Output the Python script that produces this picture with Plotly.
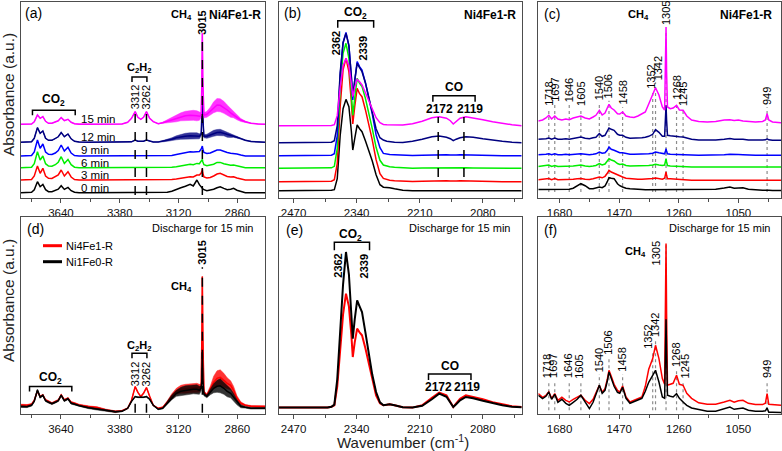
import plotly.graph_objects as go

W, H = 782, 451

# ======================= DATA =======================
# ---- panel (a): 3818-2738 cm-1, six discharge times, heights above each baseline
WN_A = [3818, 3790, 3770, 3758, 3744, 3732, 3720, 3708, 3695, 3680,
        3665, 3652, 3639, 3625, 3609, 3595, 3580, 3560, 3520, 3480,
        3440, 3400, 3370, 3345, 3328, 3312, 3300, 3287, 3275, 3262,
        3248, 3232, 3210, 3190, 3170, 3150, 3130, 3110, 3090, 3069,
        3055, 3039, 3028, 3020, 3017, 3015, 3013, 3008, 2995, 2980,
        2965, 2950, 2936, 2920, 2905, 2890, 2877, 2862, 2845, 2825,
        2800, 2770, 2738]
TIME_LABELS = ["0 min", "3 min", "6 min", "9 min", "12 min", "15 min"]
BASE_A = [5.3, 18, 30.3, 42, 55.7, 73.7]
A_0MIN = [0, 0, 0.5, 3, 11, 6, 8.3, 3, 1, 1,
          2, 3.5, 7, 3.3, 5.3, 2, 0.5, 0, 0, 0,
          0, 0, 0, 0, 0, 0, 0, 0, 0, 0,
          0, 0, 0, 0, 0.5, 1.5, 3.5, 5, 6.5, 8.3,
          6.7, 12.7, 8, 5, 4.5, 4.5, 4, 3, 2, 2.5,
          3.5, 5, 6, 4.3, 3, 3.5, 4.3, 2.5, 1, 0,
          0, 0, 0]
A_3MIN = [0, 0, 0.5, 4, 14, 6.7, 11.7, 4, 1.7, 1.5,
          3, 5, 10, 4, 8.3, 3, 0.5, 0, 0, 0,
          0, 0, 0, 0, 0, 0.3, 0, 0, 0, 0.3,
          0, 0, 0, 0, 0, 0.5, 1, 2, 3, 3.3,
          3, 5, 5, 7, 9, 11, 7, 3, 2, 2.5,
          4, 6, 6.7, 5, 3.5, 3, 3.3, 2, 1, 0,
          0, 0, 0]
A_6MIN = [0, 0, 0.5, 4, 16, 7.7, 11.7, 4, 1.7, 1.5,
          3, 5.5, 11, 4.3, 8.3, 3, 0.5, 0, 0, 0,
          0, 0, 0, 0, 0, 0.3, 0, 0, 0, 0.3,
          0, 0, 0, 0, 0, 0.5, 1, 2, 3, 3.5,
          3, 4.3, 4, 6, 7.5, 8.3, 6, 3, 2, 2.5,
          3.5, 5.3, 5.3, 4, 3, 2.5, 2.7, 2, 1, 0,
          0, 0, 0]
A_9MIN = [0, 0, 0.5, 4, 16, 7.7, 12, 4, 1.7, 1.5,
          3, 5.5, 11, 5, 8.7, 3, 0.5, 0, 0, 0,
          0, 0, 0, 0, 0.2, 0.7, 0.3, 0.2, 0.3, 0.7,
          0.2, 0, 0, 0, 0, 0.5, 1.5, 2.5, 3.5, 4.3,
          4, 4.3, 4.5, 7, 9, 10, 7, 3.5, 2.5, 3,
          4.5, 6, 6, 4.5, 3.5, 2.7, 2.7, 2, 1, 0,
          0, 0, 0]
A_12MIN = [0, 0, 0.5, 4, 14.7, 9, 11.3, 4, 2, 2,
           3.5, 5.5, 9.7, 5.7, 8.3, 3.5, 1, 0.3, 0, 0,
           0, 0, 0, 0.2, 0.5, 2.3, 1, 1, 1, 2.3,
           1, 0.3, 0.3, 1, 2, 3, 4.5, 5.5, 6, 6.5,
           6.5, 6.5, 6, 8, 25, 42, 25, 6, 6, 7.5,
           9, 9.8, 10, 9, 7.5, 6.8, 6.5, 5, 3.7, 2,
           0.7, 0.3, 0]
A_12MIN_NOISE = [0, 0, 0, 0, 0, 0, 0, 0, 0, 0,
                 0, 0, 0, 0, 0, 0, 0, 0, 0, 0,
                 0, 0, 0, 0, 0, 0, 0, 0, 0, 0,
                 0, 0, 0, 0.5, 1, 1.5, 2, 2.5, 3, 3,
                 3, 3, 2.5, 1.5, 0, 0, 0, 1.5, 2, 2.5,
                 3, 3, 3, 2.5, 2.5, 2, 1.5, 1, 0.5, 0.3,
                 0, 0, 0]
A_15MIN = [0, 0, 0.3, 2.5, 9.3, 6, 7.7, 3, 1, 1,
           2, 3.5, 6.7, 3.7, 5, 2, 0.5, 0, 0, 0,
           0, 0, 0.3, 2, 6, 12.7, 7, 5, 7, 12.7,
           6, 2.7, 0.5, 1.5, 3, 4.5, 6, 7.5, 8.5, 9,
           9, 8.5, 8, 9, 45, 91, 45, 9, 10, 13,
           17, 19.3, 19, 17, 14.3, 11.5, 9.5, 7, 4.3, 2.5,
           1, 0.3, 0]
A_15MIN_NOISE = [0, 0, 0, 0, 0, 0, 0, 0, 0, 0,
                 0, 0, 0, 0, 0, 0, 0, 0, 0, 0,
                 0, 0, 0, 0, 0, 0, 0, 0, 0, 0,
                 0, 0, 0, 0.7, 1.5, 2.5, 3.5, 4, 4.5, 5,
                 5, 5, 4, 2.5, 0, 0, 0, 2.5, 3, 4,
                 5.5, 6.5, 6.5, 6, 5, 4.5, 3, 2.5, 1.5, 0.7,
                 0, 0, 0]
PEAKS_A = [3312, 3262, 3015]

# ---- panel (b): 2500-2000 cm-1
WN_B = [2500, 2440, 2400, 2392, 2386, 2380, 2374, 2368, 2362, 2356,
        2351, 2348, 2344, 2339, 2334, 2329, 2322, 2315, 2308, 2300,
        2292, 2285, 2278, 2272, 2262, 2245, 2225, 2205, 2185, 2170,
        2155, 2147, 2141, 2135, 2127, 2115, 2100, 2080, 2060, 2040,
        2020, 2000]
BASE_B = [7.3, 16.3, 29.7, 42.3, 55.3, 72.3]
B_0MIN = [0, 0, 0, 0.5, 1, 12, 55, 82, 91.3, 84,
          60, 40.7, 52, 65.7, 62, 59, 50, 40, 30, 16,
          6, 3.5, 3.5, 3, 2, 0.5, 0, 0, 0, 0,
          0, 0, 0, 0, 0, 0, 0, 0, 0, 0,
          0, 0]
B_3MIN = [0, 0, 0, 0.5, 2, 18, 75, 112, 123.3, 110,
          80, 57.7, 75, 93.3, 88, 85, 72, 58, 42, 22,
          8, 3.3, 2, 1.5, 1, 0.5, 0.3, 0.5, 1, 1,
          1, 0.8, 0.5, 0.8, 1, 1, 0.8, 0.5, 0.3, 0,
          0, 0]
B_6MIN = [0, 0, 0, 0.5, 2, 20, 80, 115, 125, 110,
          75, 53, 70, 90, 85, 81.7, 70, 56, 40, 21,
          8, 3.3, 2, 1.5, 1, 0.5, 0, 0.3, 0.5, 0.5,
          0.5, 0.3, 0.2, 0.3, 0.5, 0.5, 0.3, 0.2, 0, 0,
          0, 0]
B_9MIN = [0, 0, 0, 0.5, 2, 20, 80, 113, 123.3, 110,
          80, 55.7, 75, 94, 89, 85.7, 73, 58, 42, 21,
          8, 2.3, 1.5, 1.2, 1, 0.5, 0.3, 0.5, 1, 1,
          1, 0.7, 0.5, 0.7, 1, 1, 0.7, 0.5, 0.3, 0,
          0, 0]
B_12MIN = [0, 0, 0, 0.5, 2, 17, 70, 100, 109.3, 97,
           66, 46, 62, 79.3, 75, 71, 60, 46, 30, 14,
           5, 2.7, 1.5, 1, 0.5, 0.3, 1.5, 3.5, 6, 6.7,
           5.5, 4, 2, 3.5, 5, 6, 5.5, 4, 2.5, 1.5,
           0.5, 0]
B_15MIN = [0, 0, 0, 0.3, 1, 10, 38, 60, 67.3, 60,
           42, 29, 38, 46.3, 44, 40.7, 33, 25, 17, 8,
           3, 1.3, 1, 1, 1, 0.8, 2, 4.5, 8, 9,
           7.5, 5, 1.7, 4.5, 7.5, 9, 8, 6, 4, 2.3,
           1, 0]
PEAKS_B = [2362, 2339]
CO_PEAKS = [2172, 2119]

# ---- panel (c): 1755-900 cm-1
WN_C = [1755, 1740, 1728, 1718, 1708, 1697, 1686, 1672, 1658, 1646,
        1632, 1618, 1605, 1590, 1575, 1562, 1552, 1540, 1530, 1520,
        1512, 1506, 1498, 1488, 1476, 1468, 1458, 1446, 1432, 1418,
        1404, 1390, 1378, 1366, 1352, 1342, 1330, 1318, 1310, 1307,
        1305, 1303, 1300, 1290, 1280, 1268, 1258, 1245, 1232, 1215,
        1190, 1160, 1130, 1100, 1080, 1065, 1050, 1034, 1015, 990,
        965, 955, 949, 943, 930, 900]
BASE_C = [8.3, 17.7, 31, 42.7, 57.7, 76]
C_0MIN = [0.3, 0.3, 0.5, 1, 0.3, 1, 0.5, 0.3, 0.5, 0.5,
          1.5, 3.5, 6, 4, 1, 1, 1.5, 2.7, 2, 3.7,
          8, 12, 11.5, 11, 6, 4, 2.7, 1.5, 1, 1,
          0.5, 0.3, 0, 0, 0, 0, 0, 0, 0, 0.3,
          0.5, 0.3, 0, 0, 0, 0, 0, 0, 0, 0,
          0, 0, 0.5, 1.7, 2.7, 1.5, 1.5, 2, 0.5, -0.3,
          -0.5, -0.5, -0.3, -0.5, -0.7, -0.7]
C_3MIN = [0.5, 1, 1.5, 1.7, 0.5, 1.7, 0.5, 0.5, 1, 0.7,
          1, 1.5, 1.7, 1, 0.7, 1.5, 2, 3.3, 2.5, 4,
          7, 10, 8.3, 7, 5, 4, 3.3, 2, 1.5, 1,
          1, 1, 1, 1.3, 1.7, 2.3, 1.5, 1, 2, 5,
          8.3, 5, 1.5, 1.5, 1.3, 1.3, 1, 0.3, 0, 0,
          0, 0, 0, 0.3, 0.5, 0.3, 0.3, 0.3, 0, 0,
          0, 0, 0.3, 0, 0, 0]
C_6MIN = [0.5, 1, 1, 2, 0.5, 1.5, 0.5, 0.5, 1, 0.5,
          1, 1.5, 2, 1, 0.5, 1, 1.5, 3.3, 2, 3,
          6, 8.3, 7, 6, 3.5, 2.5, 3, 1.5, 1, 1,
          1, 1, 1, 1.5, 2, 2.7, 2, 1.5, 2, 5,
          8.3, 5, 1.5, 1, 1, 1, 1, 0.5, 0.3, 0,
          0, 0, 0, 0.3, 0.5, 0.3, 0.5, 0.3, 0, 0,
          0, 0, 0.3, 0, 0, 0]
C_9MIN = [0.5, 0.5, 1, 1.5, 0.5, 1.5, 0.5, 0.5, 1, 0.5,
          1, 1.5, 1.5, 1, 0.5, 1, 1.5, 3.3, 2, 2.5,
          5, 8.3, 6, 5, 3, 2.5, 2.5, 1.5, 1, 1,
          1, 1, 1, 1.5, 2, 3.3, 2.5, 1.5, 1.5, 4,
          6.7, 4, 1.5, 1, 1, 1, 1, 0.5, 0.5, 0.3,
          0, 0, 0, 0.5, 1, 0.5, 0.7, 0.5, 0, 0,
          0, 0, 0.5, 0, 0, 0]
C_12MIN = [1, 1, 1.5, 2.3, 1, 2.3, 1, 1, 1.5, 1,
           2, 3, 3.3, 2, 1.5, 2.5, 3, 6.7, 4, 5,
           9, 12.3, 11, 10, 6, 5, 5, 3, 2, 2,
           2.5, 2.5, 3, 4, 6, 10.7, 8, 4, 4, 20,
           35, 20, 5, 4.5, 4, 4, 3.5, 3.3, 2, 1,
           0.3, 0, 0.3, 1, 1.7, 1, 1.3, 1, 0.3, 0,
           0.3, 0.5, 1.5, 0.5, 0, 0]
C_15MIN = [1, 2, 4, 6.7, 3, 6, 3, 2, 3, 2.3,
           4, 5, 6, 4, 3, 5, 6.7, 11.7, 7, 9,
           14, 17.7, 14, 12, 8.3, 8, 10, 6, 5, 4.5,
           6, 8, 10, 18, 28.3, 34.3, 27, 15, 12, 50,
           95, 50, 15, 13.3, 14, 16.7, 12, 11.7, 6, 2,
           0.5, 0, 0.5, 2, 2.3, 1.5, 2, 1, 0.3, 0,
           0.5, 2, 8.3, 2, 0, -0.7]
PEAKS_C = [1718, 1697, 1646, 1605, 1540, 1506, 1458, 1352, 1342, 1305, 1268, 1245, 949]

# ---- panel (d): discharge 15 min, heights above the axis (same wavenumbers as (a))
SAMPLES = ["Ni4Fe1-R", "Ni1Fe0-R"]
D_NI4FE1 = [9.3, 9, 10, 14, 23.3, 17.7, 19.3, 14.3, 13, 11,
            12.7, 14, 19.3, 14.3, 16, 12, 11, 9.3, 7.7, 6.7,
            4.3, 2.7, 3.5, 6, 14, 27.7, 22, 17.7, 21, 26.7,
            18, 9, 6, 7, 12, 18, 23, 25, 25.5, 26,
            26, 26.5, 26, 28, 80, 137.7, 80, 22, 19, 25,
            32, 36, 37, 34, 31, 29, 24, 16, 11, 9,
            8, 7.7, 7.7]
D_NI4FE1_NOISE = [0.8, 0.8, 0.8, 0.8, 0.8, 0.8, 0.8, 0.8, 0.8, 0.8,
                  0.8, 0.8, 0.8, 0.8, 0.8, 0.8, 0.8, 0.8, 0.8, 0.8,
                  0.8, 0.8, 0.4, 0.4, 0.4, 0.4, 0.4, 0.4, 0.4, 0.4,
                  0.4, 0.4, 0.4, 0.4, 1.5, 2.5, 3, 4, 4.5, 4.5,
                  4.5, 4.5, 4, 2.5, 0, 0, 0, 1.5, 1.5, 3,
                  6, 7.5, 7.5, 7, 5.5, 4.5, 4, 2.5, 1.5, 0.8,
                  0.8, 0.8, 0.8]
D_NI1FE0 = [7.7, 7.5, 9, 13, 24.3, 17, 19, 13.5, 12, 10.5,
            12, 13.5, 19, 13.5, 15.5, 11, 10, 8.5, 6.5, 5,
            3.5, 2.5, 3, 6, 13, 17.7, 17, 16.7, 17, 17.7,
            15, 9, 5, 6, 11, 17, 21, 23, 24, 24.5,
            25, 25, 24, 26, 35, 62, 35, 20, 18, 22,
            26, 28, 28.5, 26, 23, 21, 17, 12, 8, 7,
            6, 6, 6]
D_NI1FE0_NOISE = [0.8, 0.8, 0.8, 0.8, 0.8, 0.8, 0.8, 0.8, 0.8, 0.8,
                  0.8, 0.8, 0.8, 0.8, 0.8, 0.8, 0.8, 0.8, 0.8, 0.8,
                  0.8, 0.8, 0.4, 0.4, 0.4, 0.4, 0.4, 0.4, 0.4, 0.4,
                  0.4, 0.4, 0.4, 0.4, 1.5, 2.5, 3, 4, 4.5, 4.5,
                  4.5, 4.5, 4, 2.5, 0, 0, 0, 1.5, 1.5, 2.5,
                  4.5, 6, 7, 6, 5.5, 4.5, 4, 2.5, 1.5, 0.8,
                  0.8, 0.8, 0.8]

# ---- panel (e): same wavenumbers as (b)
E_NI4FE1 = [6.7, 6.7, 6.7, 7.5, 9, 28, 65, 100, 120.7, 108,
            80, 57.3, 72, 85.7, 82, 79, 66, 50, 34, 19,
            11, 9, 9.5, 10, 9, 7, 6.7, 9, 16.5, 21.7,
            19, 13, 7.3, 11, 15.5, 19, 17.5, 15, 12, 10,
            8, 7.3]
E_NI1FE0 = [6.7, 6.7, 6.7, 7.5, 9.7, 35, 85, 130, 162.3, 140,
            100, 75.7, 95, 114, 108, 102.3, 82, 60, 40, 22.3,
            12, 9, 9.5, 10, 9, 7, 6.7, 8.5, 15, 20.7,
            17.5, 12, 7.3, 10, 14, 17.3, 16, 13.5, 11, 9,
            7.5, 7]

# ---- panel (f): same wavenumbers as (c)
F_NI4FE1 = [20.7, 17, 19, 22.3, 16, 20.7, 14, 17, 14, 12.3,
            15, 17, 19, 14, 10.7, 15, 22.3, 29, 22, 25.7,
            35, 44, 38, 30, 24, 22.3, 28.3, 17.3, 12.3, 14,
            16, 17.3, 28, 45, 55.7, 69, 55.7, 35.7, 30, 100,
            170.7, 100, 29, 30, 31, 39, 30, 29, 21, 16,
            11.5, 10, 10, 12.3, 14, 12, 13.5, 14, 11, 9.7,
            9.7, 11, 20.7, 10, 9.5, 9]
F_NI1FE0 = [19, 15.7, 18, 22.3, 15, 20, 12, 15, 11, 9,
            12, 15, 19, 12, 5.7, 12, 20, 29, 21, 24,
            33, 42.3, 36, 28, 22, 21, 27, 16, 11, 12.5,
            14, 16, 23, 32, 39, 44, 32.3, 17.3, 16, 60,
            95, 60, 19, 18, 17.3, 20.7, 16, 12.3, 9, 6.3,
            4.5, 3, 3, 5.7, 7.3, 5, 6, 6.3, 4, 3,
            3, 3.5, 6.3, 2, 2, 1.7]

# ======================= STYLE / LAYOUT =======================
FONT = "Liberation Sans, Arial, sans-serif"
AX = "#4d4d4d"
TIME_COLORS = ["#000000", "#ff0000", "#00ee00", "#0000ff", "#000080", "#ff00ff"]
SAMPLE_COLORS = ["#ff0000", "#000000"]

COLS = [(20.7, 265.0), (279.0, 521.7), (538.3, 781.0)]
ROWS = [(2.0, 198.0), (217.0, 414.3)]
XR = [[3818, 2738], [2500, 2000], [1755, 900]]
TICK0 = [3640, 2470, 1680]
DTICK = [260, 130, 210]
YR = [[0, 196], [0, 197.3]]

fig = go.Figure()
annotations, shapes = [], []


def ref(k):
    return ('x' if k == 1 else f'x{k}', 'y' if k == 1 else f'y{k}')


def line(k, x, y, color, width=1.5):
    xr, yr = ref(k)
    fig.add_trace(go.Scatter(x=x, y=y, xaxis=xr, yaxis=yr, mode='lines',
                             line=dict(color=color, width=width),
                             showlegend=False, hoverinfo='skip'))


def band(k, x, center, hw, color):
    xr, yr = ref(k)
    up = [c + h for c, h in zip(center, hw)]
    lo = [c - h for c, h in zip(center, hw)]
    fig.add_trace(go.Scatter(x=list(x) + list(x)[::-1], y=up + lo[::-1],
                             xaxis=xr, yaxis=yr, mode='lines', fill='toself',
                             fillcolor=color, opacity=0.8, line=dict(color=color, width=0.5),
                             showlegend=False, hoverinfo='skip'))


def _font(size, bold, color):
    return dict(family=FONT, size=size, color=color, weight='bold' if bold else 'normal')


def tdata(k, x, y, text, size=11, bold=False, angle=0, xanchor='center', color='black'):
    xr, yr = ref(k)
    annotations.append(dict(x=x, y=y, xref=xr, yref=yr, text=text, showarrow=False,
                            textangle=angle, xanchor=xanchor, yanchor='middle',
                            borderpad=0, font=_font(size, bold, color)))


def tpx(px, py, text, size=11, bold=False, angle=0, xanchor='center', color='black'):
    annotations.append(dict(x=px / W, y=1 - py / H, xref='paper', yref='paper', text=text,
                            showarrow=False, textangle=angle, xanchor=xanchor, yanchor='middle',
                            borderpad=0, font=_font(size, bold, color)))


def vline(k, x, y0, y1, dash='dash', color='black', width=1.5, layer='above'):
    xr, yr = ref(k)
    shapes.append(dict(type='line', xref=xr, yref=yr, x0=x, x1=x, y0=y0, y1=y1, layer=layer,
                       line=dict(color=color, width=width, dash=dash)))


def bracket(k, x0, x1, y, tick):
    xr, yr = ref(k)
    shapes.append(dict(type='path', xref=xr, yref=yr,
                       path=f"M {x0},{y - tick} L {x0},{y} L {x1},{y} L {x1},{y - tick}",
                       line=dict(color='black', width=1.5)))


# ---------------- panel (a) ----------------
A_SERIES = [A_0MIN, A_3MIN, A_6MIN, A_9MIN, A_12MIN, A_15MIN]
A_NOISE = {4: A_12MIN_NOISE, 5: A_15MIN_NOISE}
for i, ser in enumerate(A_SERIES):
    yv = [BASE_A[i] + v for v in ser]
    if i in A_NOISE:
        band(1, WN_A, yv, A_NOISE[i], TIME_COLORS[i])
    line(1, WN_A, yv, TIME_COLORS[i])

# ---------------- panel (b) ----------------
B_SERIES = [B_0MIN, B_3MIN, B_6MIN, B_9MIN, B_12MIN, B_15MIN]
for i, ser in enumerate(B_SERIES):
    line(2, WN_B, [BASE_B[i] + v for v in ser], TIME_COLORS[i])

# ---------------- panel (c) ----------------
C_SERIES = [C_0MIN, C_3MIN, C_6MIN, C_9MIN, C_12MIN, C_15MIN]
for i, ser in enumerate(C_SERIES):
    line(3, WN_C, [BASE_C[i] + v for v in ser], TIME_COLORS[i])

# ---------------- panel (d) ----------------
band(4, WN_A, D_NI4FE1, D_NI4FE1_NOISE, SAMPLE_COLORS[0])
line(4, WN_A, D_NI4FE1, SAMPLE_COLORS[0])
band(4, WN_A, D_NI1FE0, D_NI1FE0_NOISE, SAMPLE_COLORS[1])
line(4, WN_A, D_NI1FE0, SAMPLE_COLORS[1])

# ---------------- panel (e) ----------------
line(5, WN_B, E_NI4FE1, SAMPLE_COLORS[0], 2)
line(5, WN_B, E_NI1FE0, SAMPLE_COLORS[1], 2)

# ---------------- panel (f) ----------------
line(6, WN_C, F_NI4FE1, SAMPLE_COLORS[0])
line(6, WN_C, F_NI1FE0, SAMPLE_COLORS[1])

# ======================= annotations (a) =======================
tpx(24, 13, "(a)", 14, xanchor='left')
tpx(262, 15, "Ni4Fe1-R", 12, bold=True, xanchor='right')
tdata(1, 3106, 183, "CH<sub>4</sub>", 11, bold=True)
time_h = [10, 23, 35, 48.3, 61, 79.3]
for lab, hh in zip(TIME_LABELS, time_h):
    tdata(1, 3555, hh, lab, 11.5, xanchor='left')
bracket(1, 3766, 3577, 87.7, 5)
tdata(1, 3673, 97.7, "CO<sub>2</sub>", 12, bold=True)
bracket(1, 3326, 3260, 121, 5)
tdata(1, 3293, 130, "C<sub>2</sub>H<sub>2</sub>", 11, bold=True)
vline(1, PEAKS_A[0], 3, 88)
vline(1, PEAKS_A[1], 3, 88)
vline(1, PEAKS_A[2], 3, 163)
tdata(1, PEAKS_A[0], 101, str(PEAKS_A[0]), 11, angle=-90)
tdata(1, PEAKS_A[1], 101, str(PEAKS_A[1]), 11, angle=-90)
tdata(1, PEAKS_A[2], 175.5, str(PEAKS_A[2]), 11, bold=True, angle=-90)

# ======================= annotations (b) =======================
tpx(283, 13, "(b)", 14, xanchor='left')
tpx(517, 15, "Ni4Fe1-R", 12, bold=True, xanchor='right')
bracket(2, 2379, 2305, 177.3, 7)
tdata(2, 2342, 185, "CO<sub>2</sub>", 12, bold=True)
tdata(2, PEAKS_B[0] + 19, 154.5, str(PEAKS_B[0]), 11, bold=True, angle=-90)
tdata(2, PEAKS_B[1] - 13, 150, str(PEAKS_B[1]), 11, bold=True, angle=-90)
bracket(2, 2183, 2096, 102.3, 6)
tdata(2, 2140, 111, "CO", 12, bold=True)
tdata(2, CO_PEAKS[0] - 2, 89, str(CO_PEAKS[0]), 12, bold=True)
tdata(2, CO_PEAKS[1] - 12, 89, str(CO_PEAKS[1]), 12, bold=True)
for p in CO_PEAKS:
    vline(2, p, 21, 81)

# ======================= annotations (c) =======================
tpx(543, 14, "(c)", 14, xanchor='left')
tpx(638, 15, "CH<sub>4</sub>", 11, bold=True)
tpx(773, 15, "Ni4Fe1-R", 12, bold=True, xanchor='right')
c_center = [104, 108, 108, 104, 110, 111.5, 105, 121.5, 130, 185, 110, 104, 102]
c_bottom = [91.7, 96, 96, 91.7, 97.7, 99.3, 92.7, 109.3, 117.7, 168, 97.7, 91.7, 92.7]
c_shift = [0, 0, 0, 0, 0, 0, 0, 5, -10, 0, 0, 0, 0]
for p, cc, bb, sh in zip(PEAKS_C, c_center, c_bottom, c_shift):
    vline(3, p, 6, bb - 2, dash='dot', color='#8c8c8c', width=1.2, layer='below')
    tdata(3, p + sh, cc, str(p), 11, angle=-90)

# ======================= annotations (d) =======================
tpx(26, 229, "(d)", 14, xanchor='left')
tpx(203, 228, "Discharge for 15 min", 11)
for j, (nm, col) in enumerate(zip(SAMPLES, SAMPLE_COLORS)):
    yy = 245.7 + 16 * j
    shapes.append(dict(type='line', xref='paper', yref='paper', x0=43 / W, x1=62 / W,
                       y0=1 - yy / H, y1=1 - yy / H, line=dict(color=col, width=3)))
    tpx(65, yy, nm, 11, xanchor='left')
vline(4, PEAKS_A[0], 1.5, 12)
vline(4, PEAKS_A[1], 1.5, 12)
vline(4, PEAKS_A[2], 1.5, 147)
tdata(4, PEAKS_A[0], 40.3, str(PEAKS_A[0]), 11, angle=-90)
tdata(4, PEAKS_A[1], 40.3, str(PEAKS_A[1]), 11, angle=-90)
tdata(4, PEAKS_A[2], 162, str(PEAKS_A[2]), 11, bold=True, angle=-90)
tdata(4, 3106, 127.6, "CH<sub>4</sub>", 11, bold=True)
bracket(4, 3326, 3260, 61, 5)
tdata(4, 3293, 68, "C<sub>2</sub>H<sub>2</sub>", 11, bold=True)
bracket(4, 3779, 3592, 27.7, 5)
tdata(4, 3688, 36, "CO<sub>2</sub>", 12, bold=True)

# ======================= annotations (e) =======================
tpx(285, 230, "(e)", 14, xanchor='left')
tpx(460, 228, "Discharge for 15 min", 11)
bracket(5, 2386, 2313.5, 172, 8)
tdata(5, 2352, 179, "CO<sub>2</sub>", 12, bold=True)
tdata(5, PEAKS_B[0] + 17, 148.3, str(PEAKS_B[0]), 11, bold=True, angle=-90)
tdata(5, PEAKS_B[1] - 15, 148.3, str(PEAKS_B[1]), 11, bold=True, angle=-90)
bracket(5, 2192, 2104.5, 40.3, 6)
tdata(5, 2148.6, 48, "CO", 12, bold=True)
tdata(5, CO_PEAKS[0] - 1, 27, str(CO_PEAKS[0]), 12, bold=True)
tdata(5, CO_PEAKS[1] - 6, 27, str(CO_PEAKS[1]), 12, bold=True)

# ======================= annotations (f) =======================
tpx(543, 230, "(f)", 14, xanchor='left')
tpx(720, 228, "Discharge for 15 min", 11)
tpx(635, 252.3, "CH<sub>4</sub>", 11, bold=True)
f_center = [48, 48, 48, 48, 54.5, 71, 54.5, 78, 89.5, 161, 59.5, 48, 45]
f_bottom = [35.7, 35.7, 35.7, 35.7, 42.3, 59, 42.3, 65.7, 77.3, 172, 47.3, 35.7, 35.7]
f_xpos = [1724.5, 1701, 1648, 1610, 1543, 1507.6, 1460.6, 1366.8, 1343, 1340, 1269.4, 1237.7, 946.6]
for p, cc, bb, xx in zip(PEAKS_C, f_center, f_bottom, f_xpos):
    vline(6, p, 4, bb - 2, dash='dot', color='#8c8c8c', width=1.2, layer='below')
    tdata(6, xx, cc, str(p), 11, angle=-90)

# ======================= axis titles =======================
tpx(8, 95, "Absorbance (a.u.)", 15.5, angle=-90, color='#222222')
tpx(8, 301, "Absorbance (a.u.)", 15.5, angle=-90, color='#222222')
tpx(403, 441.5, "Wavenumber (cm<sup>-1</sup>)", 15, color='#222222')

# ======================= axes =======================
layout_axes = {}
for r in range(2):
    for c in range(3):
        k = r * 3 + c + 1
        xname = 'xaxis' if k == 1 else f'xaxis{k}'
        yname = 'yaxis' if k == 1 else f'yaxis{k}'
        xr, yr = ref(k)
        layout_axes[xname] = dict(
            domain=[COLS[c][0] / W, COLS[c][1] / W], range=XR[c], anchor=yr,
            showline=True, mirror=True, linecolor=AX, linewidth=1,
            ticks='outside', ticklen=4, tickcolor=AX, tickwidth=1,
            tick0=TICK0[c], dtick=DTICK[c], tickformat='d',
            minor=dict(tick0=TICK0[c], dtick=DTICK[c] / 2, ticks='outside', ticklen=2.5,
                       tickcolor=AX, showgrid=False),
            showgrid=False, zeroline=False,
            tickfont=dict(family=FONT, size=11.5, color='#111111'))
        layout_axes[yname] = dict(
            domain=[1 - ROWS[r][1] / H, 1 - ROWS[r][0] / H], range=YR[r], anchor=xr,
            showline=True, mirror=True, linecolor=AX, linewidth=1,
            showticklabels=False, ticks='', showgrid=False, zeroline=False)

fig.update_layout(
    width=W, height=H, margin=dict(l=0, r=0, t=0, b=0),
    paper_bgcolor='white', plot_bgcolor='white', showlegend=False,
    annotations=annotations, shapes=shapes, **layout_axes)

fig.write_html("out.html", config={'displayModeBar': False},
               post_script="document.body.style.margin='0px';document.body.style.overflow='hidden';")
